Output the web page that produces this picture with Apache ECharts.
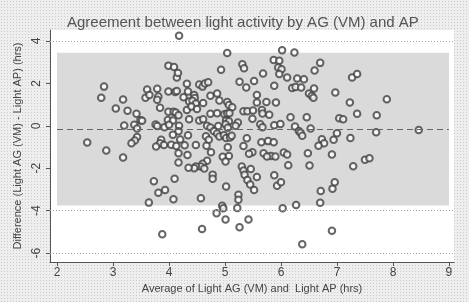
<!DOCTYPE html>
<html>
<head>
<meta charset="utf-8">
<script src="https://cdn.jsdelivr.net/npm/echarts@6/dist/echarts.min.js"></script>
<style>
  html, body {
    margin: 0;
    padding: 0;
    width: 469px;
    height: 302px;
    overflow: hidden;
    background-color: #eeeeee;
    background-image: radial-gradient(#c9c9c9 0.7px, transparent 0.8px);
    background-size: 3px 3px;
  }
  #chart {
    width: 469px;
    height: 302px;
  }
</style>
</head>
<body>
<div id="chart"></div>
<script>
// average of light AG (VM) and light AP, hrs (x)
const avgHours = [
  4.18, 3.99, 4.09, 4.14, 4.16, 2.84, 2.79, 3.18, 3.05, 3.26,
  3.42, 3.49, 3.52, 3.61, 3.79, 3.58, 3.65, 3.81, 3.79, 3.84,
  3.99, 4.11, 4.14, 4.32, 4.26, 3.99, 4.08, 4.12, 4.32, 3.98,
  4.07, 4.17, 3.20, 3.38, 3.43, 3.76, 3.79, 3.92, 4.00, 4.18,
  4.17, 4.07, 2.54, 3.43, 3.39, 3.86, 4.20, 4.34,
  5.04, 6.02, 6.24, 5.31, 5.34, 4.93, 5.87, 5.97, 5.95, 6.01,
  5.97, 5.68, 6.70, 6.60, 6.11, 6.29, 6.41, 5.52, 5.26, 5.38,
  4.54, 4.60, 4.64, 4.70, 4.34, 4.74, 4.86, 4.45, 4.46, 6.20,
  6.26, 6.36, 6.50, 6.55, 6.58, 5.57, 5.57, 5.74, 5.91, 4.90,
  5.04, 5.07, 5.13, 4.36, 4.42, 4.48, 4.61, 4.40, 4.50, 4.74,
  4.86, 4.99, 5.04, 5.08, 5.33, 5.40, 5.50, 5.66, 5.67, 5.79,
  5.49, 6.17, 6.46, 4.36, 4.54, 4.61, 5.02, 5.07, 5.23, 4.68,
  4.74, 4.88, 5.01, 5.05, 5.19, 5.63, 5.67, 5.88, 5.99, 6.25,
  6.32, 6.35, 6.38, 6.53, 4.80, 4.86, 4.90, 4.98, 5.02, 5.09,
  5.12, 4.66, 4.71, 5.39, 5.65, 5.77, 5.87, 6.73,
  7.27, 7.36, 6.97, 7.23, 7.89, 7.04, 7.11, 7.36, 7.71, 8.46,
  7.00, 7.70, 6.94, 7.24, 6.77,
  2.88, 3.18, 3.33, 3.84, 3.77, 3.91, 4.04, 4.13, 4.28, 4.33,
  4.48, 4.67, 4.75, 5.05, 4.96, 5.33, 5.49, 5.82, 5.90, 6.05,
  6.11,
  4.17, 5.43, 5.07, 5.01, 4.17, 4.68, 4.60, 4.57, 4.48, 4.45,
  4.35, 4.63, 5.30, 5.33, 5.35, 5.40, 4.78, 4.78, 5.02, 4.10,
  3.73, 3.81, 3.93, 3.64, 4.08, 4.57, 5.24, 5.24, 5.22, 4.95,
  4.97, 4.85, 5.01, 5.42, 4.59, 5.26, 3.88,
  5.69, 5.75, 6.48, 6.91, 6.67, 6.13, 6.51, 7.29, 7.50, 7.58,
  5.46, 5.57, 5.88, 5.45, 5.52, 5.93, 6.00, 6.71, 6.92, 6.96,
  6.27, 6.03, 6.70, 6.91, 6.38, 6.59, 5.88
]
// difference light AG (VM) - light AP, hrs (y)
const diffHours = [
  4.25, 2.84, 2.77, 2.28, 2.49, 1.85, 1.32, 1.24, 0.82, 0.71,
  0.57, 0.27, 0.24, 1.71, 1.75, 1.33, 1.45, 1.38, 1.23, 0.85,
  1.62, 1.60, 1.64, 1.98, 1.35, 0.66, 0.67, 0.63, 0.75, 0.28,
  0.25, 0.50, 0.02, 0.05, -0.13, 0.06, -0.01, -0.06, 0.05, 0.01,
  -0.25, -0.42, -0.79, -0.53, -0.69, -0.66, -0.64, -0.44,
  3.43, 3.57, 3.46, 2.91, 2.72, 2.64, 3.11, 3.07, 2.75, 2.67,
  2.45, 2.47, 2.97, 2.61, 2.28, 2.23, 2.20, 2.12, 2.08, 1.81,
  1.95, 1.85, 2.00, 2.06, 1.62, 1.42, 1.52, 1.46, 1.31, 1.78,
  1.83, 1.81, 1.52, 1.42, 1.33, 1.45, 1.10, 1.13, 1.10, 1.19,
  1.12, 0.98, 0.88, 1.15, 1.18, 1.05, 1.08, 0.91, 0.80, 0.57,
  0.60, 0.55, 0.58, 0.60, 0.69, 0.69, 0.72, 0.75, 0.58, 0.52,
  0.33, 0.41, 0.41, 0.31, 0.25, 0.31, 0.25, 0.22, 0.16, 0.00,
  -0.08, -0.01, 0.08, -0.09, 0.00, 0.08, -0.06, 0.03, 0.09, -0.03,
  -0.24, -0.33, -0.47, -0.13, -0.24, -0.36, -0.50, -0.44, -0.57, -0.55,
  -0.47, -0.49, -0.66, -0.58, -0.77, -0.72, -0.77, -0.63,
  2.28, 2.44, 1.57, 1.10, 1.26, 0.36, 0.31, 0.57, 0.50, -0.19,
  -0.35, -0.30, -0.66, -0.57, -0.82,
  -1.16, -1.49, -0.82, -0.82, -0.97, -0.90, -0.89, -0.95, -0.92, -1.38,
  -0.90, -0.94, -1.24, -1.01, -1.46, -0.95, -1.25, -1.42, -1.45, -1.26,
  -1.35,
  -1.29, -1.32, -1.42, -1.68, -1.73, -1.65, -1.79, -1.92, -1.92, -2.00,
  -1.98, -2.01, -1.92, -2.11, -2.31, -2.55, -2.30, -2.49, -2.86, -2.49,
  -2.61, -3.15, -3.03, -3.62, -3.46, -3.41, -3.25, -3.49, -3.87, -3.77,
  -3.88, -4.12, -4.42, -4.42, -4.86, -4.78, -5.11,
  -1.29, -1.45, -1.29, -1.35, -0.94, -1.86, -1.87, -1.90, -1.60, -1.53,
  -2.03, -2.41, -2.33, -2.77, -3.03, -2.83, -2.66, -3.07, -2.96, -2.66,
  -3.73, -3.88, -3.63, -4.95, -5.58, 1.76, 1.89
]

// mean difference and limits of agreement
const meanDiff = -0.16
const loaUpper = 3.45
const loaLower = -3.75
const loaXRange = [2, 9]

const xTicks = [2, 3, 4, 5, 6, 7, 8, 9]
const yTicks = [-6, -4, -2, 0, 2, 4]

const points = avgHours.map((x, i) => [x, diffHours[i]])

const chart = echarts.init(document.getElementById('chart'), null, { renderer: 'canvas' })

const fontFamily = '"Liberation Sans", Arial, sans-serif'

const option = {
  backgroundColor: 'transparent',
  animation: false,
  title: {
    text: 'Agreement between light activity by AG (VM) and AP',
    left: 62,
    top: 10,
    textStyle: {
      fontFamily: fontFamily,
      fontSize: 15,
      fontWeight: 'normal',
      color: '#555'
    }
  },
  grid: {
    left: 50,
    right: 15,
    top: 30,
    bottom: 40,
    show: true,
    backgroundColor: '#ffffff',
    borderWidth: 0
  },
  xAxis: {
    type: 'value',
    min: 1.875,
    max: 9.09,
    name: 'Average of Light AG (VM) and  Light AP (hrs)',
    nameLocation: 'middle',
    nameGap: 16,
    nameTextStyle: {
      fontFamily: fontFamily,
      fontSize: 11,
      color: '#444'
    },
    axisLine: { show: true, onZero: false, lineStyle: { color: '#555', width: 1 } },
    axisTick: { show: true, length: 4, customValues: xTicks, lineStyle: { color: '#555' } },
    axisLabel: {
      customValues: xTicks,
      margin: 5,
      fontFamily: fontFamily,
      fontSize: 12,
      color: '#444'
    },
    splitLine: { show: false }
  },
  yAxis: {
    type: 'value',
    min: -6.42,
    max: 4.52,
    name: 'Difference (Light AG (VM) - Light AP) (hrs)',
    nameLocation: 'middle',
    nameGap: 22,
    nameTextStyle: {
      fontFamily: fontFamily,
      fontSize: 11,
      color: '#444'
    },
    axisLine: { show: true, onZero: false, lineStyle: { color: '#555', width: 1 } },
    axisTick: { show: true, length: 4, customValues: yTicks, lineStyle: { color: '#555' } },
    axisLabel: {
      customValues: yTicks,
      rotate: 90,
      margin: 7,
      fontFamily: fontFamily,
      fontSize: 12,
      color: '#444'
    },
    splitLine: { show: false }
  },
  series: [
    {
      name: 'agreement',
      type: 'scatter',
      data: points,
      symbol: 'emptyCircle',
      symbolSize: 6.5,
      itemStyle: {
        color: '#404040',
        borderWidth: 1.1
      },
      markArea: {
        silent: true,
        itemStyle: { color: '#dadada' },
        data: [[
          { coord: [loaXRange[0], loaUpper] },
          { coord: [loaXRange[1], loaLower] }
        ]]
      },
      markLine: {
        silent: true,
        symbol: 'none',
        label: { show: false },
        data: [
          ...yTicks
            .filter(v => v > loaUpper || v < loaLower)
            .map(v => ({ yAxis: v, lineStyle: { color: '#a8a8a8', type: [1, 2], width: 1 } })),
          [
            { coord: [loaXRange[0], meanDiff], lineStyle: { color: '#666', type: [6, 4], width: 1 } },
            { coord: [loaXRange[1], meanDiff] }
          ]
        ]
      },
      z: 3
    }
  ]
}

chart.setOption(option)
</script>
</body>
</html>
